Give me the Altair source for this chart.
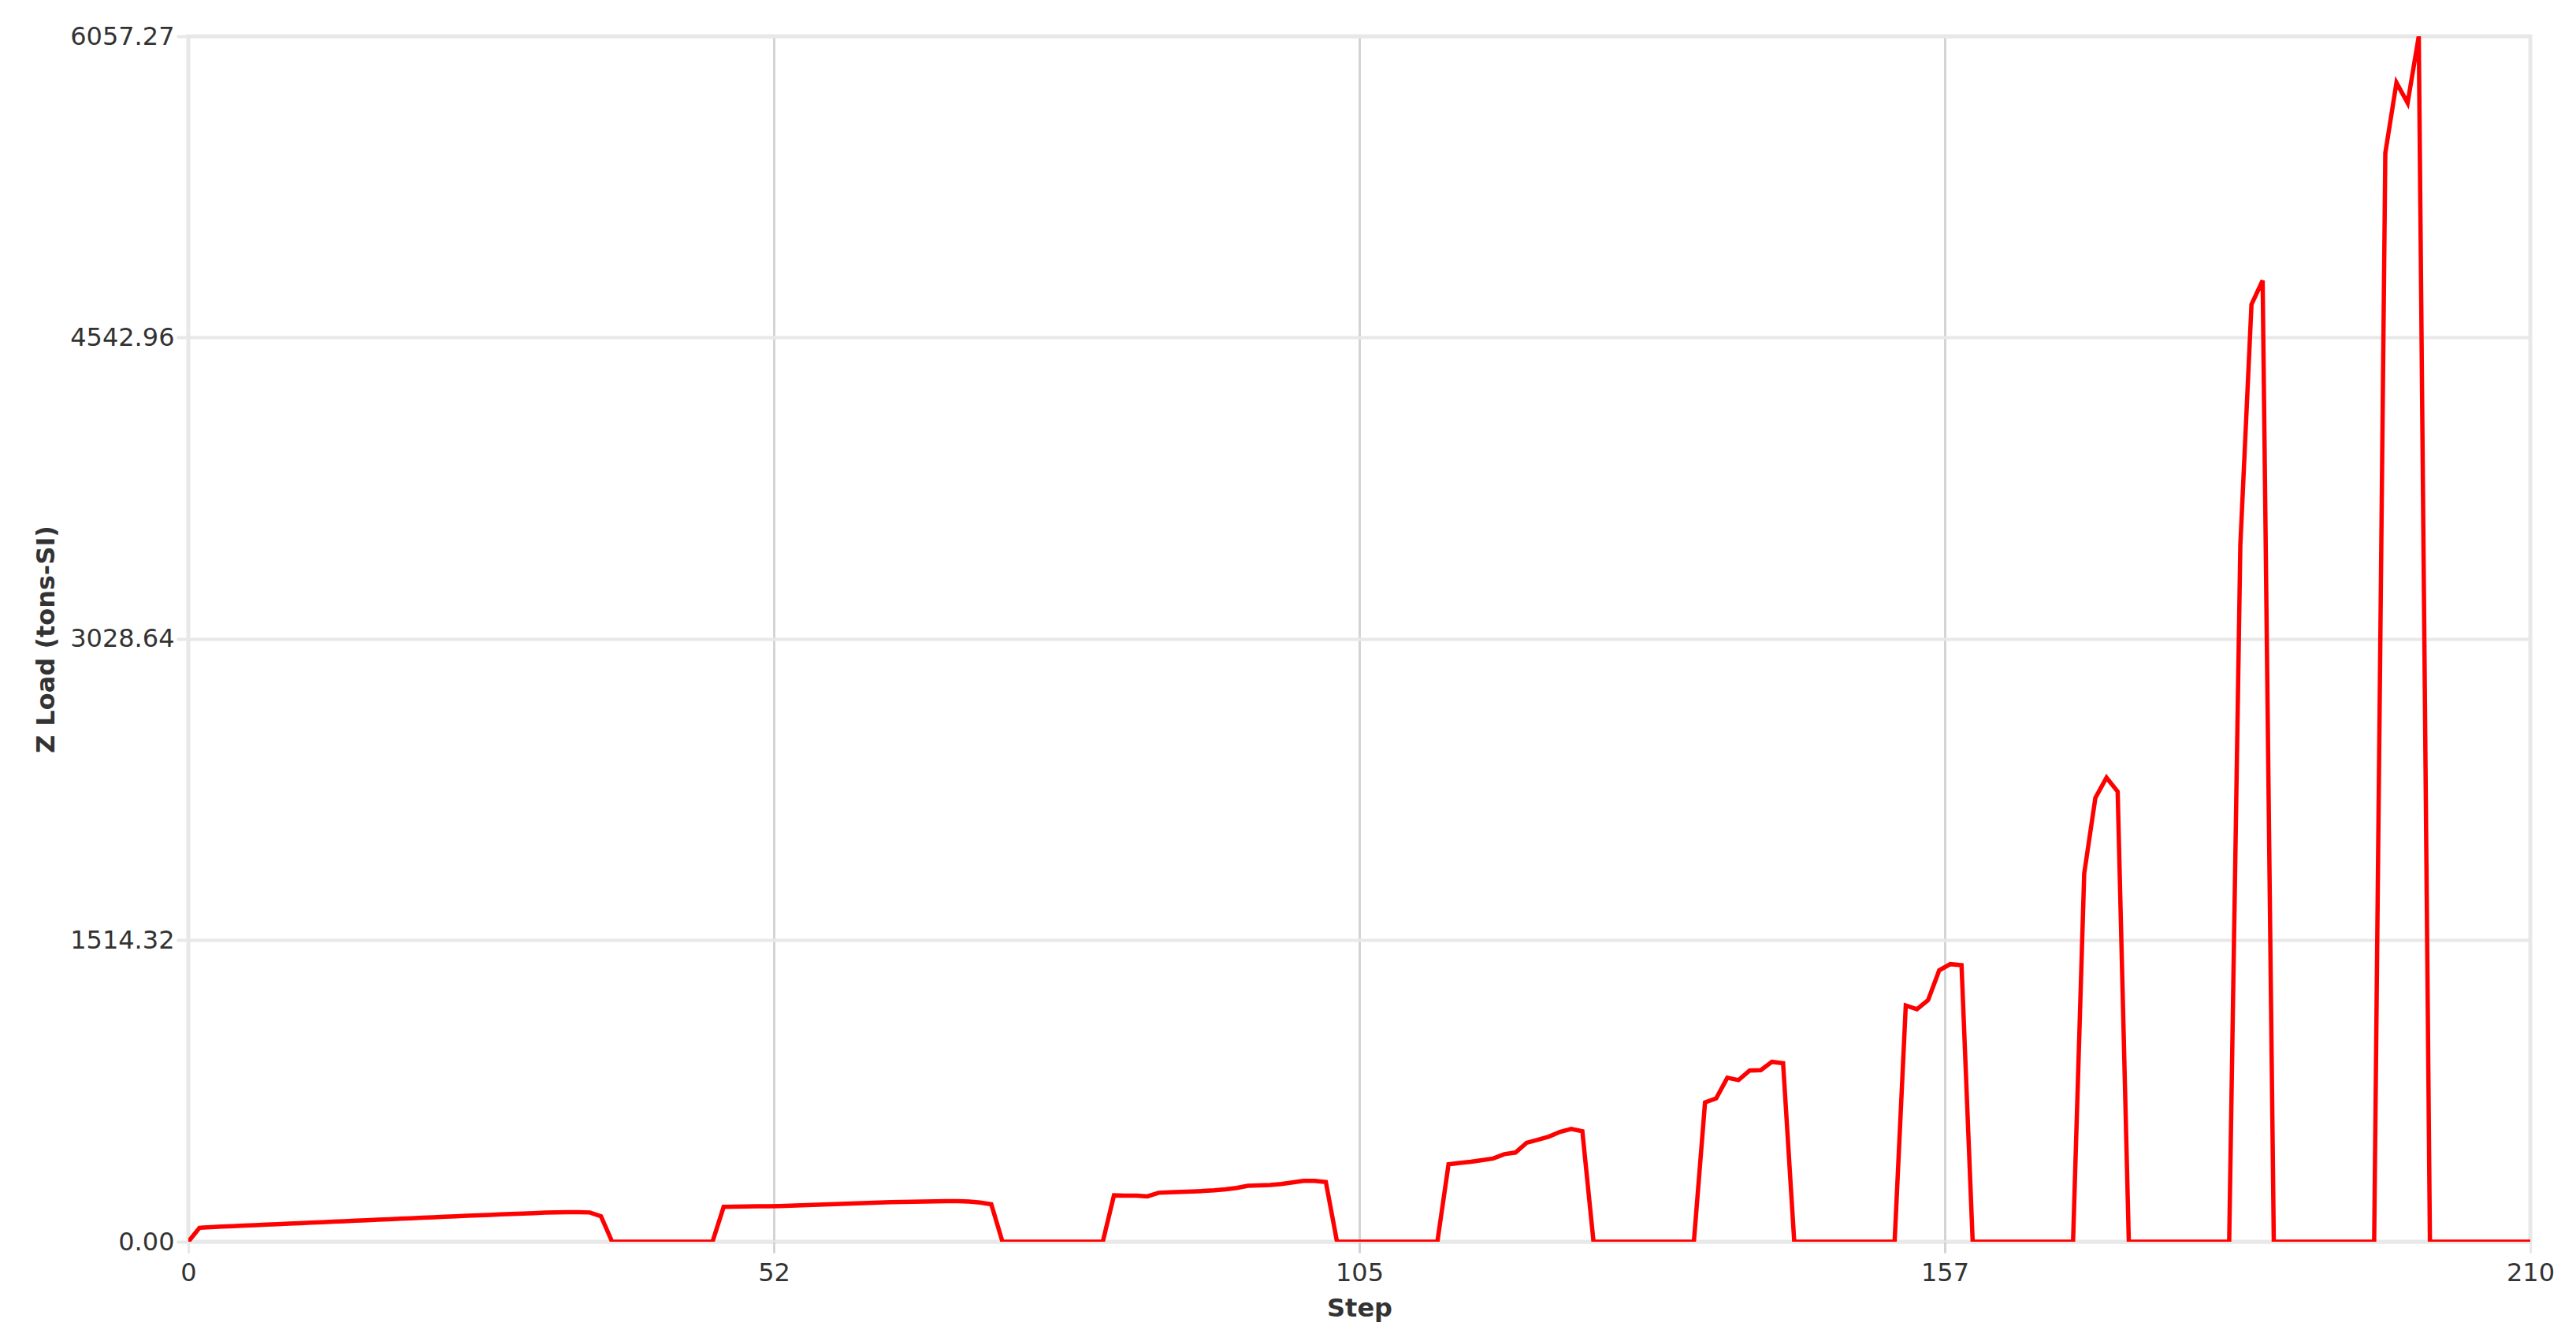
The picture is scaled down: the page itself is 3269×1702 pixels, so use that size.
import altair as alt
import pandas as pd

# Z load per step (tons-SI), steps 0..210
cycle_1 = [0, 70, 73, 76, 78, 81, 83, 86, 88, 91, 93, 96, 98, 101, 103, 106, 108, 111, 113,
           116, 118, 121, 123, 126, 128, 131, 133, 135, 138, 140, 142, 144, 146, 147, 148,
           148, 147, 128]
gap_1 = [0, 0, 0, 0, 0, 0, 0, 0, 0, 0]
cycle_2 = [175, 176, 177, 178, 178, 179, 181, 183, 185, 187, 189, 191, 193, 195, 197, 199,
           200, 201, 202, 203, 204, 204, 202, 197, 188]
gap_2 = [0, 0, 0, 0, 0, 0, 0, 0, 0, 0]
cycle_3 = [233, 232, 232, 228, 246, 248, 250, 252, 255, 258, 263, 270, 281, 283, 285, 290,
           298, 306, 306, 300]
gap_3 = [0, 0, 0, 0, 0, 0, 0, 0, 0, 0]
cycle_4 = [389, 396, 402, 410, 418, 440, 448, 497, 512, 528, 552, 567, 555]
gap_4 = [0, 0, 0, 0, 0, 0, 0, 0, 0, 0]
cycle_5 = [700, 720, 824, 812, 860, 862, 904, 897]
gap_5 = [0, 0, 0, 0, 0, 0, 0, 0, 0, 0]
cycle_6 = [1187, 1168, 1214, 1364, 1395, 1390]
gap_6 = [0, 0, 0, 0, 0, 0, 0, 0, 0, 0]
cycle_7 = [1850, 2230, 2332, 2262]
gap_7 = [0, 0, 0, 0, 0, 0, 0, 0, 0, 0]
cycle_8 = [3500, 4710, 4830]
gap_8 = [0, 0, 0, 0, 0, 0, 0, 0, 0, 0]
cycle_9 = [5470, 5824, 5722, 6057.27]
gap_9 = [0, 0, 0, 0, 0, 0, 0, 0, 0, 0]

z_load = (cycle_1 + gap_1 + cycle_2 + gap_2 + cycle_3 + gap_3 + cycle_4 + gap_4 +
          cycle_5 + gap_5 + cycle_6 + gap_6 + cycle_7 + gap_7 + cycle_8 + gap_8 +
          cycle_9 + gap_9)
steps = list(range(len(z_load)))

x_ticks = [0, 52.5, 105, 157.5, 210]
y_ticks = [0, 1514.32, 3028.64, 4542.96, 6057.27]

df = pd.DataFrame({"Step": steps, "Z": z_load})

FONT = "DejaVu Sans"
TXT = "#333333"

chart = alt.Chart(df).mark_line(color="#ff0000", strokeWidth=5.5, clip=True).encode(
    x=alt.X(
        "Step:Q",
        scale=alt.Scale(domain=[0, 210], nice=False, zero=False),
        axis=alt.Axis(
            values=x_ticks,
            labelExpr="floor(datum.value)",
            title="Step",
            grid=True,
            gridColor={"condition": {"test": "datum.value === 0 || datum.value === 210",
                                     "value": "#e8e8e8"}, "value": "#d4d4d4"},
            gridWidth=3,
            tickColor={"condition": {"test": "datum.value === 0 || datum.value === 210",
                                     "value": "#e8e8e8"}, "value": "#d4d4d4"},
            tickWidth=3,
            tickSize=14,
            domain=False,
            labelPadding=10,
            labelFlush=False,
            labelOverlap=False,
            labelFont=FONT,
            labelFontSize=32,
            labelColor=TXT,
            titleFont=FONT,
            titleFontSize=32,
            titleFontWeight="bold",
            titleColor=TXT,
            titleY=84,
            titleBaseline="middle",
        ),
    ),
    y=alt.Y(
        "Z:Q",
        scale=alt.Scale(domain=[0, 6057.27], nice=False, zero=True),
        axis=alt.Axis(
            values=y_ticks,
            format=".2f",
            title="Z Load (tons-SI)",
            grid=True,
            gridColor="#e8e8e8",
            gridWidth=4,
            tickColor="#e8e8e8",
            tickWidth=4,
            tickSize=15,
            domain=False,
            labelPadding=3,
            labelFlush=False,
            labelOverlap=False,
            labelFont=FONT,
            labelFontSize=32,
            labelColor=TXT,
            titleFont=FONT,
            titleFontSize=32,
            titleFontWeight="bold",
            titleColor=TXT,
            titleX=-181,
            titleBaseline="middle",
        ),
    ),
).properties(
    width=2972,
    height=1530,
    padding={"left": 231, "top": 38, "right": 50, "bottom": 110},
    autosize=alt.AutoSizeParams(type="none"),
).configure_view(
    stroke="#e8e8e8",
    strokeWidth=5,
)

chart.save("out.html", embed_options={"renderer": "svg", "actions": False})
